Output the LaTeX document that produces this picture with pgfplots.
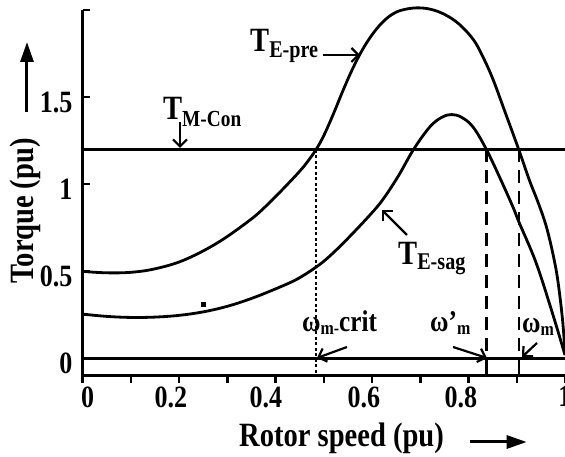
\documentclass[border=0pt]{standalone}
\usepackage{fontspec}
\setmainfont{Liberation Serif}[FakeStretch=0.84]
\usepackage{pgfplots}
\pgfplotsset{compat=1.18}
\usetikzlibrary{arrows.meta}
\begin{document}
\begin{tikzpicture}
\begin{axis}[
  at={(0pt,0pt)}, anchor=south west,
  scale only axis, width=482.3pt, height=366pt,
  xmin=0, xmax=1, ymin=-0.1, ymax=2,
  clip=false,
  axis lines=left,
  axis line style={-, line width=3pt},
  tick align=outside,
  major tick length=7pt,
  tick style={line width=2.4pt, black},
  y tick style={xshift=7pt},
  xtick={0,0.1,0.2,0.3,0.4,0.5,0.6,0.7,0.8,0.9,1},
  xticklabels={},
  extra x ticks={0.01,0.183,0.38,0.583,0.784,1.0},
  extra x tick labels={0,0.2,0.4,0.6,0.8,1},
  extra x tick style={tick style={draw=none}},
  ytick={0,0.25,0.5,1,1.5,2},
  yticklabels={0,,0.5,1,1.5,},
  /pgf/number format/assume math mode=true,
  ticklabel style={font=\bfseries\fontsize{31}{31}\selectfont},
  yticklabel style={yshift=-5pt, inner xsep=3pt},
]
% T_E-pre
\addplot[black, line width=2.8pt, smooth, tension=0.6] table {
x y
0 0.50
0.05 0.492
0.10 0.495
0.15 0.515
0.21 0.565
0.28 0.665
0.347 0.795
0.38 0.875
0.416 0.975
0.45 1.075
0.467 1.133
0.484 1.20
0.50 1.28
0.52 1.405
0.54 1.54
0.56 1.665
0.58 1.772
0.60 1.858
0.62 1.925
0.64 1.972
0.66 1.998
0.69 2.012
0.72 2.005
0.75 1.975
0.78 1.92
0.81 1.83
0.83 1.73
0.851 1.60
0.875 1.42
0.904 1.20
0.926 1.025
0.945 0.89
0.961 0.76
0.975 0.60
0.985 0.45
0.995 0.22
1.0 0.03
};
% T_E-sag
\addplot[black, line width=2.8pt, smooth, tension=0.6] table {
x y
0 0.255
0.05 0.242
0.10 0.236
0.15 0.238
0.20 0.248
0.25 0.268
0.30 0.30
0.35 0.345
0.40 0.40
0.444 0.455
0.485 0.527
0.513 0.59
0.55 0.69
0.596 0.825
0.623 0.915
0.655 1.05
0.686 1.20
0.72 1.33
0.745 1.385
0.765 1.40
0.785 1.385
0.809 1.33
0.837 1.20
0.867 1.025
0.892 0.87
0.905 0.78
0.94 0.55
0.974 0.26
1.0 0.02
};
% T_M-Con and zero line
\addplot[black, line width=2.8pt] coordinates {(0,1.2) (1,1.2)};
\addplot[black, line width=2.8pt] coordinates {(0,0) (1,0)};
% vertical markers
\addplot[black, line width=2.2pt, dash pattern=on 3pt off 2.5pt] coordinates {(0.484,-0.08) (0.484,1.2)};
\addplot[black, line width=2.4pt, dash pattern=on 13pt off 8pt] coordinates {(0.837,1.2) (0.837,0)};
\addplot[black, line width=2.4pt] coordinates {(0.837,0) (0.837,-0.1)};
\addplot[black, line width=2.4pt, dash pattern=on 13pt off 8pt] coordinates {(0.904,1.2) (0.904,0)};
\addplot[black, line width=2.4pt] coordinates {(0.904,0) (0.904,-0.1)};
% stray dot
\addplot[black, only marks, mark=square*, mark size=2pt] coordinates {(0.249,0.313)};
\end{axis}
% axis titles and arrows
\node[rotate=90, anchor=base, inner sep=0, font=\bfseries\fontsize{34}{34}\selectfont] at (-49.2pt,165pt) {Torque (pu)};
\node[anchor=base, inner sep=0, font=\bfseries\fontsize{34}{34}\selectfont] at (258.8pt,-71pt) {Rotor speed (pu)};
\draw[line width=3pt, -{Triangle[length=20pt,width=13pt]}] (-55.7pt,264pt) -- (-55.7pt,334pt);
\draw[line width=3pt, -{Triangle[length=20pt,width=13pt]}] (387.3pt,-66pt) -- (444pt,-66pt);
% curve labels
\node[anchor=base west, inner sep=0, font=\bfseries\fontsize{34}{34}\selectfont] at (167.3pt,324.3pt) {T\raisebox{-5.8pt}{\fontsize{24}{24}\selectfont E-pre}};
\node[anchor=base west, inner sep=0, font=\bfseries\fontsize{34}{34}\selectfont] at (80.3pt,256pt) {T\raisebox{-6.5pt}{\fontsize{23}{23}\selectfont M-Con}};
\node[anchor=base west, inner sep=0, font=\bfseries\fontsize{34}{34}\selectfont] at (315.3pt,111pt) {T\raisebox{-5pt}{\fontsize{24}{24}\selectfont E-sag}};
\node[anchor=base west, inner sep=0, font=\bfseries\fontsize{30}{30}\selectfont] at (219.3pt,44.3pt) {ω\raisebox{-3pt}{\fontsize{19}{19}\selectfont m-}crit};
\node[anchor=base west, inner sep=0, font=\bfseries\fontsize{30}{30}\selectfont] at (347.3pt,44pt) {ω’\raisebox{-3pt}{\fontsize{19}{19}\selectfont m}};
\node[anchor=base west, inner sep=0, font=\bfseries\fontsize{30}{30}\selectfont] at (439.3pt,43pt) {ω\raisebox{-3pt}{\fontsize{19}{19}\selectfont m}};
% annotation arrows
\begin{scope}[line width=2.2pt, -{Straight Barb[length=7pt,width=14pt]}]
\draw (240.3pt,321pt) -- (277.3pt,321pt);
\draw (97.3pt,254pt) -- (97.3pt,228pt);
\draw (324.3pt,141pt) -- (299.3pt,166pt);
\draw (264.3pt,29pt) -- (234.3pt,18pt);
\draw (370.3pt,29pt) -- (404.3pt,18pt);
\draw (454.3pt,33pt) -- (439.3pt,19pt);
\end{scope}
\pgfresetboundingbox
\path[use as bounding box] (-82.7pt,-81pt) rectangle (482.3pt,376pt);
\end{tikzpicture}
\end{document}
